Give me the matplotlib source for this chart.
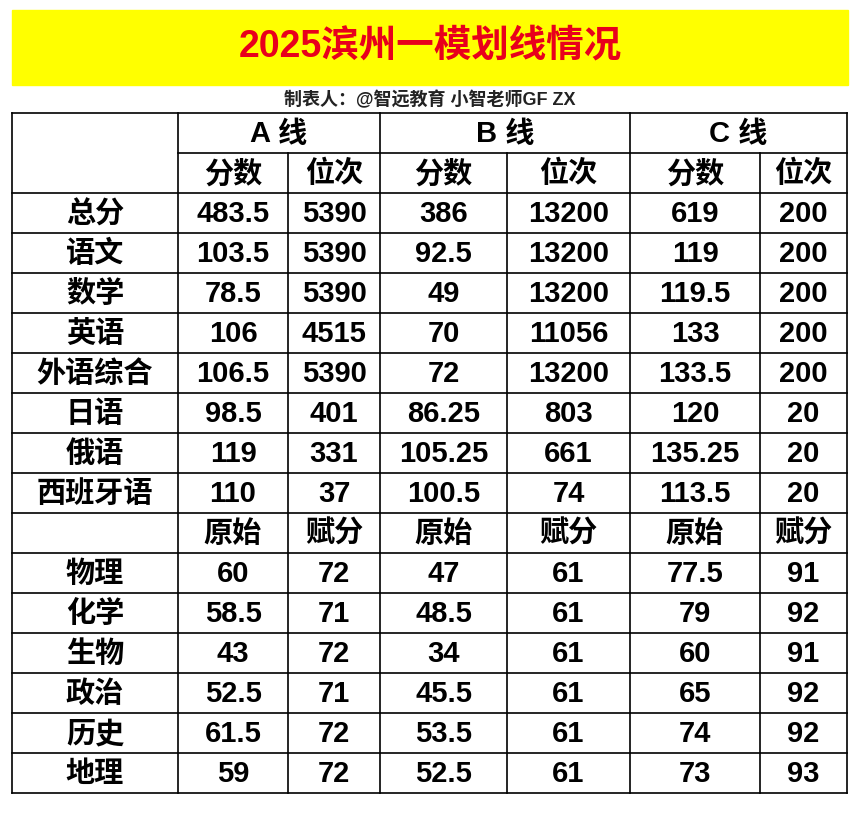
import matplotlib
matplotlib.use("Agg")
import matplotlib.pyplot as plt

plt.rcParams['font.family'] = ['Liberation Sans', 'Noto Sans CJK SC', 'DejaVu Sans']

title = "2025滨州一模划线情况"
author = "制表人：@智远教育 小智老师GF ZX"
line_names = ["A 线", "B 线", "C 线"]
head1 = ["分数", "位次"]
rows1 = ["总分", "语文", "数学", "英语", "外语综合", "日语", "俄语", "西班牙语"]
A_score = ["483.5", "103.5", "78.5", "106", "106.5", "98.5", "119", "110"]
A_rank = ["5390", "5390", "5390", "4515", "5390", "401", "331", "37"]
B_score = ["386", "92.5", "49", "70", "72", "86.25", "105.25", "100.5"]
B_rank = ["13200", "13200", "13200", "11056", "13200", "803", "661", "74"]
C_score = ["619", "119", "119.5", "133", "133.5", "120", "135.25", "113.5"]
C_rank = ["200", "200", "200", "200", "200", "20", "20", "20"]
head2 = ["原始", "赋分"]
rows2 = ["物理", "化学", "生物", "政治", "历史", "地理"]
A_raw = ["60", "58.5", "43", "52.5", "61.5", "59"]
A_ass = ["72", "71", "72", "71", "72", "72"]
B_raw = ["47", "48.5", "34", "45.5", "53.5", "52.5"]
B_ass = ["61", "61", "61", "61", "61", "61"]
C_raw = ["77.5", "79", "60", "65", "74", "73"]
C_ass = ["91", "92", "91", "92", "92", "93"]

W, H = 859, 830
fig = plt.figure(figsize=(W/100, H/100), dpi=100)
ax = fig.add_axes([0, 0, 1, 1])
ax.set_xlim(0, W); ax.set_ylim(H, 0); ax.axis('off')

ax.add_patch(plt.Rectangle((12, 10), 836, 75, color='#FFFF00', zorder=0))
ax.text(430, 47, title, color='#E8001C', fontsize=27, fontweight='bold', ha='center', va='center')
ax.text(430, 100, author, color='#222222', fontsize=13, fontweight='bold', ha='center', va='center')

xs = [12, 178, 288, 380, 507, 630, 760, 847]
y0, rh = 113, 40
nrows = 17
y_end = y0 + nrows*rh
lw = 1.2
ax.plot([12, 847], [y0, y0], color='k', lw=lw)
ax.plot([12, 847], [y_end, y_end], color='k', lw=lw)
for i in range(1, nrows):
    y = y0 + i*rh
    x_start = xs[1] if i == 1 else 12
    ax.plot([x_start, 847], [y, y], color='k', lw=lw)
for j, x in enumerate(xs):
    if j in (2, 4, 6):
        ax.plot([x, x], [y0 + rh, y_end], color='k', lw=lw)
    else:
        ax.plot([x, x], [y0, y_end], color='k', lw=lw)

fs = 21
def cell(r, c0, c1, s):
    ax.text((xs[c0]+xs[c1])/2, y0 + r*rh + rh/2 + 1, s, fontsize=fs, fontweight='bold',
            ha='center', va='center', color='k')

for k, n in enumerate(line_names):
    cell(0, 1+2*k, 3+2*k, n)
for k in range(3):
    cell(1, 1+2*k, 2+2*k, head1[0]); cell(1, 2+2*k, 3+2*k, head1[1])
cols1 = [A_score, A_rank, B_score, B_rank, C_score, C_rank]
for i, name in enumerate(rows1):
    cell(2+i, 0, 1, name)
    for c, col in enumerate(cols1):
        cell(2+i, 1+c, 2+c, col[i])
for k in range(3):
    cell(10, 1+2*k, 2+2*k, head2[0]); cell(10, 2+2*k, 3+2*k, head2[1])
cols2 = [A_raw, A_ass, B_raw, B_ass, C_raw, C_ass]
for i, name in enumerate(rows2):
    cell(11+i, 0, 1, name)
    for c, col in enumerate(cols2):
        cell(11+i, 1+c, 2+c, col[i])

fig.savefig("out.png", dpi=100, facecolor='white')
